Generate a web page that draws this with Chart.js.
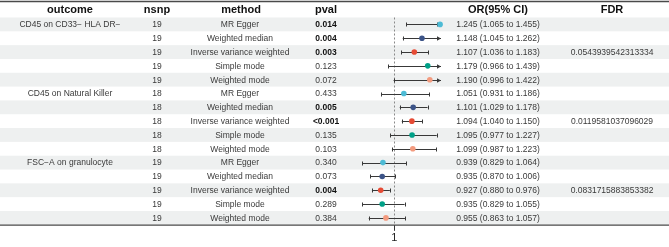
<!DOCTYPE html>
<html>
<head>
<meta charset="utf-8">
<script src="https://cdn.jsdelivr.net/npm/chart.js@4.4.1/dist/chart.umd.min.js"></script>
<style>
  html, body { margin: 0; padding: 0; background: #ffffff; }
  canvas { display: block; }
</style>
</head>
<body>
<canvas id="forest" width="669" height="247"></canvas>
<script>
// table data, one entry per row
const outcomes = ['CD45 on CD33\u2212 HLA DR\u2212', 'CD45 on Natural Killer', 'FSC\u2212A on granulocyte'];
const methods = ['MR Egger', 'Weighted median', 'Inverse variance weighted', 'Simple mode', 'Weighted mode'];
const methodColors = ['#4DBBD5', '#3C5488', '#E64B35', '#00A087', '#F39B7F'];
const nsnp = [19, 19, 19, 19, 19, 18, 18, 18, 18, 18, 19, 19, 19, 19, 19];
const pvals = ['0.014', '0.004', '0.003', '0.123', '0.072', '0.433', '0.005', '<0.001', '0.135', '0.103', '0.340', '0.073', '0.004', '0.289', '0.384'];
const pBold = [true, true, true, false, false, false, true, true, false, false, false, false, true, false, false];
const orValues = [1.245, 1.148, 1.107, 1.179, 1.190, 1.051, 1.101, 1.094, 1.095, 1.099, 0.939, 0.935, 0.927, 0.935, 0.955];
const lowerCI = [1.065, 1.045, 1.036, 0.966, 0.996, 0.931, 1.029, 1.040, 0.977, 0.987, 0.829, 0.870, 0.880, 0.829, 0.863];
const upperCI = [1.455, 1.262, 1.183, 1.439, 1.422, 1.186, 1.178, 1.150, 1.227, 1.223, 1.064, 1.006, 0.976, 1.055, 1.057];
const fdrValues = ['0.0543939542313334', '0.0119581037096029', '0.0831715883853382'];
const xTicks = [1];

const rowKeys = orValues.map((v, i) => 'row' + i);
const font = '"Liberation Sans", Arial, sans-serif';

//background stripes under everything
const stripes = {
    id: 'stripes',
    beforeDraw(chart) {
        const ctx = chart.ctx;
        const area = chart.chartArea;
        const y = chart.scales.y;
        const h = (area.bottom - area.top) / rowKeys.length;
        ctx.save();
        ctx.fillStyle = '#eef0f0';
        rowKeys.forEach((k, i) => {
            if (i % 2 === 0) {
                const yc = y.getPixelForValue(i);
                ctx.fillRect(0, yc - h / 2, chart.width, h);
            }
        });
        ctx.restore();
    }
};

//confidence interval lines, with arrows when cut by the axis
const ciLines = {
    id: 'ciLines',
    beforeDatasetsDraw(chart) {
        const ctx = chart.ctx;
        const x = chart.scales.x;
        const y = chart.scales.y;
        ctx.save();
        ctx.strokeStyle = '#383838';
        ctx.fillStyle = '#383838';
        ctx.lineWidth = 1;
        rowKeys.forEach((k, i) => {
            const yc = Math.round(y.getPixelForValue(i)) + 0.5;
            const lo = Math.max(lowerCI[i], x.min);
            const hi = Math.min(upperCI[i], x.max);
            const x0 = x.getPixelForValue(lo);
            const x1 = x.getPixelForValue(hi);
            ctx.beginPath();
            ctx.moveTo(x0, yc);
            ctx.lineTo(x1, yc);
            ctx.stroke();
            //left end
            ctx.beginPath();
            if (lowerCI[i] < x.min) {
                ctx.moveTo(x0, yc);
                ctx.lineTo(x0 + 4, yc - 2.3);
                ctx.lineTo(x0 + 4, yc + 2.3);
                ctx.closePath();
                ctx.fill();
            } else {
                ctx.moveTo(Math.round(x0) + 0.5, yc - 2);
                ctx.lineTo(Math.round(x0) + 0.5, yc + 2);
                ctx.stroke();
            }
            //right end
            ctx.beginPath();
            if (upperCI[i] > x.max) {
                ctx.moveTo(x1, yc);
                ctx.lineTo(x1 - 4, yc - 2.3);
                ctx.lineTo(x1 - 4, yc + 2.3);
                ctx.closePath();
                ctx.fill();
            } else {
                ctx.moveTo(Math.round(x1) + 0.5, yc - 2);
                ctx.lineTo(Math.round(x1) + 0.5, yc + 2);
                ctx.stroke();
            }
        });
        ctx.restore();
    }
};

//table texts and rules
const tableText = {
    id: 'tableText',
    afterDraw(chart) {
        const ctx = chart.ctx;
        const area = chart.chartArea;
        const y = chart.scales.y;
        const W = chart.width;
        ctx.save();

        //rules
        ctx.strokeStyle = '#4a4a4a';
        ctx.lineWidth = 1.5;
        ctx.beginPath();
        ctx.moveTo(0, 1.5);
        ctx.lineTo(W, 1.5);
        ctx.stroke();
        ctx.lineWidth = 1.2;
        ctx.beginPath();
        ctx.moveTo(0, area.bottom + 0.3);
        ctx.lineTo(W, area.bottom + 0.3);
        ctx.stroke();

        //header
        const headY = (1.5 + area.top) / 2 + 0.5;
        ctx.textAlign = 'center';
        ctx.textBaseline = 'middle';
        ctx.fillStyle = '#111111';
        ctx.font = 'bold 11px ' + font;
        ctx.fillText('outcome', 70, headY);
        ctx.fillText('nsnp', 157, headY);
        ctx.fillText('method', 241, headY);
        ctx.fillText('pval', 326, headY);
        ctx.fillText('OR(95% CI)', 498, headY);
        ctx.fillText('FDR', 612, headY);

        //rows
        rowKeys.forEach((k, i) => {
            const yc = y.getPixelForValue(i) + 0.5;
            const g = Math.floor(i / methods.length);
            const m = i % methods.length;
            ctx.font = '8.5px ' + font;
            ctx.fillStyle = '#3a3a3a';
            if (m === 0) ctx.fillText(outcomes[g], 70, yc);
            ctx.fillText(String(nsnp[i]), 157, yc);
            ctx.fillText(methods[m], 240, yc);
            ctx.fillText(orValues[i].toFixed(3) + ' (' + lowerCI[i].toFixed(3) + ' to ' + upperCI[i].toFixed(3) + ')', 498, yc);
            if (m === 2) ctx.fillText(fdrValues[g], 612, yc);
            if (pBold[i]) {
                ctx.font = 'bold 8.5px ' + font;
                ctx.fillStyle = '#111111';
            }
            ctx.fillText(pvals[i], 326, yc);
        });
        ctx.restore();
    }
};

new Chart(document.getElementById('forest'), {
    type: 'scatter',
    data: {
        datasets: [{
            label: 'OR',
            data: orValues.map((v, i) => ({ x: v, y: rowKeys[i] })),
            pointRadius: 2.8,
            pointHoverRadius: 2.8,
            pointBorderWidth: 0,
            pointBackgroundColor: rowKeys.map((k, i) => methodColors[i % methods.length]),
            clip: false
        }]
    },
    options: {
        responsive: false,
        devicePixelRatio: 1,
        animation: false,
        layout: {
            padding: { left: 357, right: 228, top: 17.5, bottom: 1 }
        },
        plugins: {
            legend: { display: false },
            tooltip: { enabled: false }
        },
        scales: {
            x: {
                type: 'linear',
                min: 0.8,
                max: 1.25,
                afterBuildTicks: (scale) => {
                    scale.ticks = xTicks.map(v => ({ value: v }));
                },
                ticks: {
                    color: '#222222',
                    padding: 1,
                    font: { family: font, size: 11 },
                    callback: (v) => String(v)
                },
                grid: {
                    color: '#8a8a8a',
                    lineWidth: 1,
                    tickLength: 6,
                    tickColor: '#333333',
                    tickBorderDash: []
                },
                border: { display: false, dash: [2, 2] }
            },
            y: {
                type: 'category',
                labels: rowKeys,
                offset: true,
                display: false
            }
        }
    },
    plugins: [stripes, ciLines, tableText]
});
</script>
</body>
</html>
